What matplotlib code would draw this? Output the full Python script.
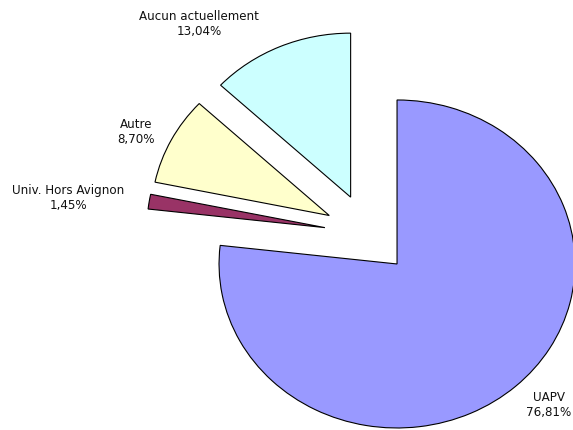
import matplotlib
matplotlib.use("Agg")
import matplotlib.pyplot as plt

# data
labels = ["UAPV", "Univ. Hors Avignon", "Autre", "Aucun actuellement"]
values = [76.81, 1.45, 8.70, 13.04]
colors = ["#9999FF", "#993366", "#FFFFCC", "#CCFFFF"]

# label block centres (data units, pie radius = 1)
label_pos = [(1.017, -1.043), (-1.683, 0.22), (-1.303, 0.622), (-0.947, 1.28)]

fig = plt.figure(figsize=(5.73, 4.30), dpi=100)
ax = fig.add_axes([0, 0, 1, 1])

ax.pie(values, explode=[0.245] * len(values), startangle=90, counterclock=False,
       colors=colors, wedgeprops=dict(edgecolor="black", linewidth=0.8))

for lab, v, (x, y) in zip(labels, values, label_pos):
    txt = lab + "\n" + f"{v:.2f}%".replace(".", ",")
    ax.text(x, y, txt, ha="center", va="center", fontsize=8.6,
            family="DejaVu Sans", linespacing=1.15, color="#111111")

# slightly wider than tall, like the original
ax.set_aspect("auto")
ax.set_xlim(-368 / 178, (573 - 368) / 178)
ax.set_ylim(-196 / 164, 234 / 164)
ax.axis("off")

fig.savefig("out.png", dpi=100)
